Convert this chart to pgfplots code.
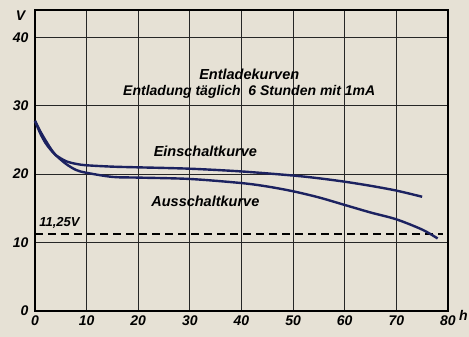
\documentclass[border=0pt]{standalone}
\usepackage{pgfplots}
\pgfplotsset{compat=1.18}
\usepackage{fontspec}
\setmainfont{Liberation Sans}
\definecolor{bg}{HTML}{E6E1D5}
\definecolor{ink}{HTML}{1C2260}
\begin{document}
\begin{tikzpicture}
\path[use as bounding box, fill=bg] (-35pt,-26pt) rectangle (434pt,311pt);
\begin{axis}[
  at={(0,0)}, anchor=south west,
  scale only axis, width=413pt, height=301pt,
  xmin=0, xmax=80, ymin=0, ymax=44,
  xtick={0,10,...,80}, ytick={0,10,...,40},
  major tick length=0pt,
  grid=major,
  major grid style={black!85, line width=1.1pt},
  axis line style={black, line width=1.6pt},
  tick label style={font=\fontsize{14}{15}\selectfont\bfseries\itshape},
  /pgf/number format/assume math mode=true,
  xticklabel style={yshift=-1pt},
  yticklabel style={xshift=-3pt},
  clip=false,
]
\addplot[black, line width=1.3pt, dash pattern=on 8pt off 5pt] coordinates {(0,11.25) (79,11.25)};
\addplot[ink, line width=2.4pt, smooth, tension=0.5] coordinates {
(0,27.8) (1,26.0) (2,24.6) (3,23.6) (4,22.8) (6,21.9) (8,21.5) (10,21.3) (15,21.1) (20,21.0) (30,20.8) (40,20.4) (50,19.8) (55,19.4) (60,18.9) (65,18.3) (70,17.6) (75,16.7)};
\addplot[ink, line width=2.4pt, smooth, tension=0.5] coordinates {
(0,27.8) (1,26.3) (2,25.0) (3,23.8) (4,22.8) (6,21.5) (8,20.6) (10,20.2) (15,19.6) (20,19.5) (30,19.3) (40,18.7) (45,18.2) (50,17.5) (55,16.6) (60,15.5) (65,14.4) (70,13.4) (75,11.9) (78,10.6)};
\node[font=\fontsize{14.5}{16}\selectfont\bfseries\itshape] at (axis cs:41.5,34.6) {Entladekurven};
\node[font=\fontsize{14}{16}\selectfont\bfseries\itshape] at (axis cs:41.5,32.1) {Entladung täglich\ \ 6 Stunden mit 1mA};
\node[font=\fontsize{14.5}{16}\selectfont\bfseries\itshape] at (axis cs:33,23.3) {Einschaltkurve};
\node[font=\fontsize{14.5}{16}\selectfont\bfseries\itshape] at (axis cs:33,16.1) {Ausschaltkurve};
\node[font=\fontsize{13}{14}\selectfont\bfseries\itshape, anchor=west, inner sep=0pt] at (axis cs:0.8,12.9) {11,25V};
\node[font=\fontsize{14}{15}\selectfont\bfseries\itshape] at (axis cs:-2.8,43.2) {V};
\node[font=\fontsize{14}{15}\selectfont\bfseries\itshape] at (axis cs:83,-0.6) {h};
\end{axis}
\end{tikzpicture}
\end{document}
